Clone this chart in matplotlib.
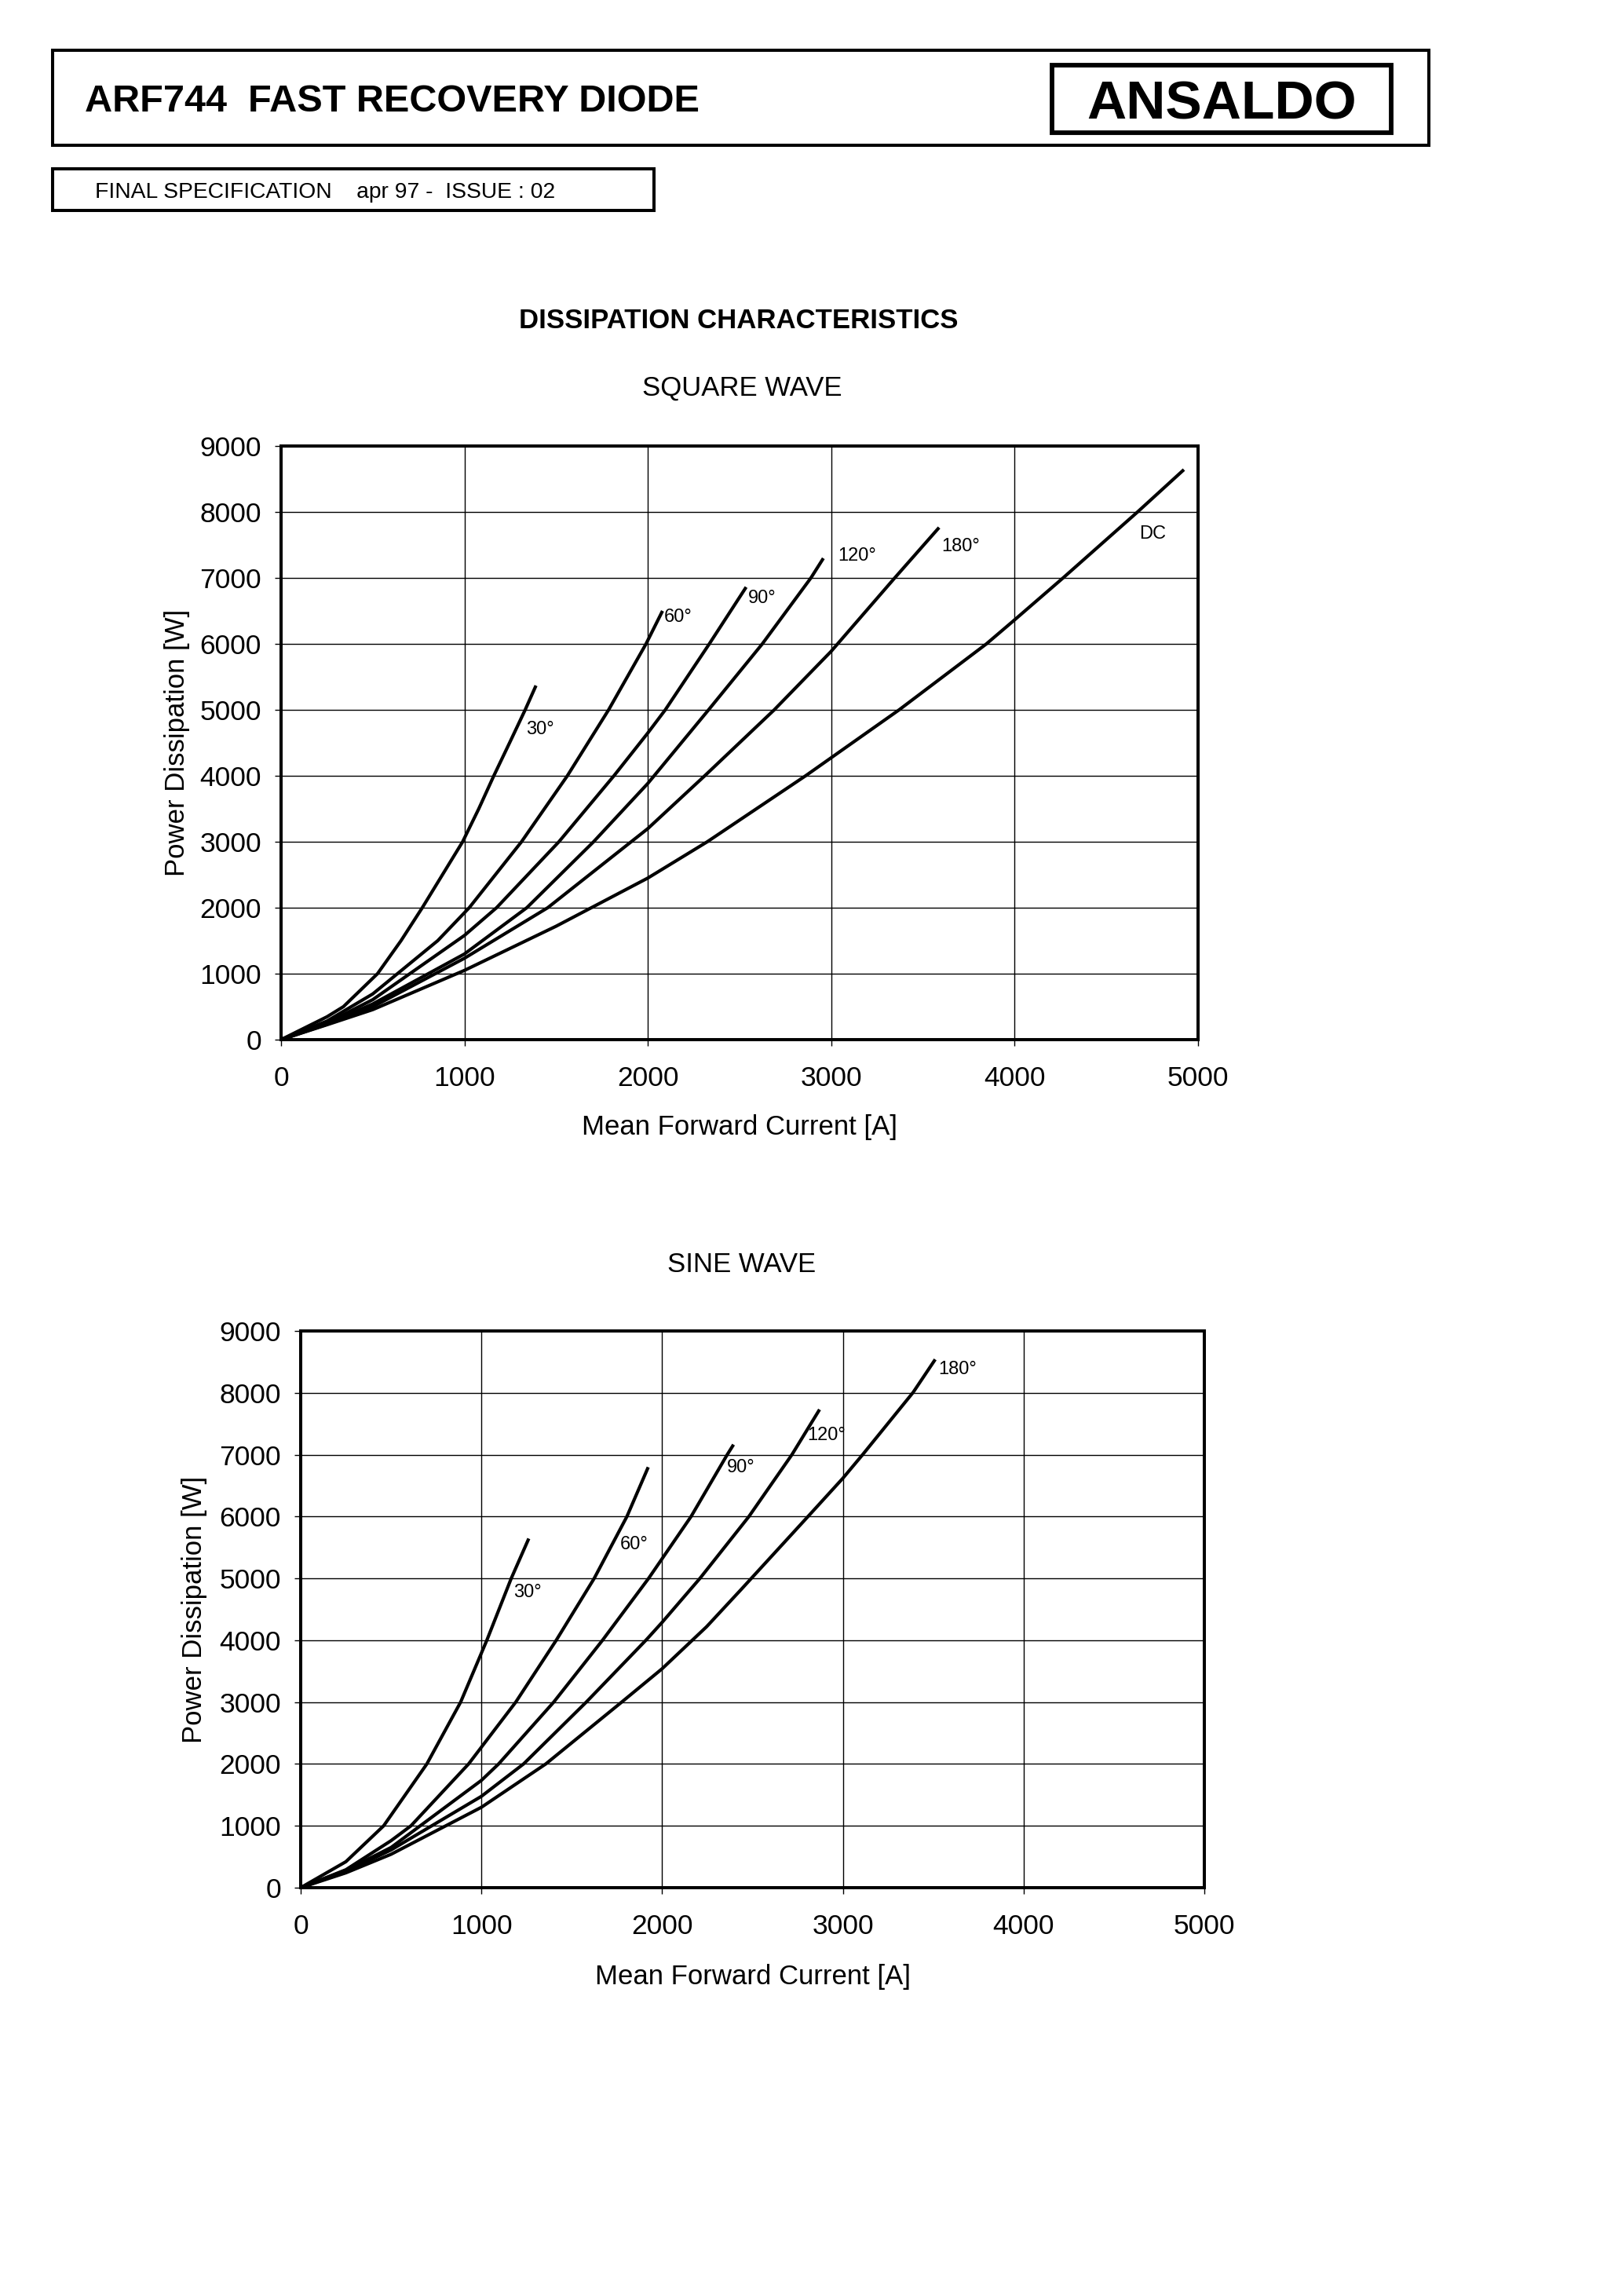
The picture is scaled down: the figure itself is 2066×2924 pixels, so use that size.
import matplotlib
matplotlib.use("Agg")
import matplotlib.pyplot as plt
from matplotlib.patches import Rectangle

plt.rcParams['font.family'] = ['Liberation Sans', 'DejaVu Sans']

W, H = 2066, 2924  # output size in pixels (dpi 100)

# ---- SQUARE WAVE: mean forward current [A] vs power dissipation [W] ----
sq_30_i = [0, 250, 340, 526, 654, 770, 880, 990, 1078, 1160, 1246, 1331, 1390]
sq_30_p = [0, 346, 500, 1000, 1500, 2000, 2500, 3000, 3500, 4000, 4500, 5000, 5368]
sq_60_i = [0, 250, 500, 854, 1026, 1311, 1561, 1786, 1990, 2080]
sq_60_p = [0, 281, 693, 1500, 2000, 3000, 4000, 5000, 6000, 6500]
sq_90_i = [0, 250, 500, 1000, 1175, 1515, 1815, 2000, 2095, 2335, 2536]
sq_90_p = [0, 253, 606, 1580, 2000, 3000, 4000, 4650, 5000, 6000, 6861]
sq_120_i = [0, 250, 500, 1000, 1340, 1704, 2000, 2331, 2624, 2889, 2957]
sq_120_p = [0, 240, 541, 1299, 2000, 3000, 3885, 5000, 6000, 7000, 7298]
sq_180_i = [0, 250, 500, 1000, 1454, 2000, 2310, 2689, 3000, 3346, 3588]
sq_180_p = [0, 232, 498, 1234, 2000, 3200, 4000, 5000, 5889, 7000, 7764]
sq_dc_i = [0, 250, 500, 1000, 1500, 2000, 2324, 2860, 3370, 3846, 4000, 4264, 4670, 4923]
sq_dc_p = [0, 225, 455, 1050, 1720, 2450, 3000, 4000, 5000, 6000, 6365, 7000, 8000, 8642]

# ---- SINE WAVE ----
sn_30_i = [0, 250, 459, 698, 885, 1030, 1165, 1262]
sn_30_p = [0, 420, 1000, 2000, 3000, 4000, 5000, 5644]
sn_60_i = [0, 250, 500, 610, 929, 1190, 1414, 1624, 1805, 1923]
sn_60_p = [0, 290, 760, 1000, 2000, 3000, 4000, 5000, 6000, 6798]
sn_90_i = [0, 250, 500, 1000, 1095, 1400, 1670, 1925, 2160, 2360, 2395]
sn_90_p = [0, 280, 650, 1735, 2000, 3000, 4000, 5000, 6000, 7000, 7163]
sn_120_i = [0, 250, 500, 1000, 1233, 1580, 1910, 2000, 2209, 2480, 2718, 2871]
sn_120_p = [0, 263, 610, 1477, 2000, 3000, 4000, 4290, 5000, 6000, 7000, 7730]
sn_180_i = [0, 250, 500, 1000, 1356, 1776, 2000, 2246, 2440, 2825, 3000, 3110, 3389, 3511]
sn_180_p = [0, 240, 540, 1300, 2000, 3000, 3540, 4219, 4830, 6058, 6619, 7003, 8008, 8540]

square_curves = [
    ('30°', sq_30_i, sq_30_p, (1335, 4700)),
    ('60°', sq_60_i, sq_60_p, (2090, 6400)),
    ('90°', sq_90_i, sq_90_p, (2548, 6694)),
    ('120°', sq_120_i, sq_120_p, (3037, 7328)),
    ('180°', sq_180_i, sq_180_p, (3601, 7477)),
    ('DC', sq_dc_i, sq_dc_p, (4681, 7661)),
]
sine_curves = [
    ('30°', sn_30_i, sn_30_p, (1179, 4767)),
    ('60°', sn_60_i, sn_60_p, (1769, 5547)),
    ('90°', sn_90_i, sn_90_p, (2359, 6788)),
    ('120°', sn_120_i, sn_120_p, (2801, 7308)),
    ('180°', sn_180_i, sn_180_p, (3528, 8372)),
]


def px_rect(x0, y0, x1, y1):
    """pixel box (top-left origin) -> figure fraction [l, b, w, h]"""
    return [x0 / W, 1 - y1 / H, (x1 - x0) / W, (y1 - y0) / H]


def draw_chart(ax, curves, ylabel_x, xlabel_y):
    for name, xs, ys, (lx, ly) in curves:
        ax.plot(xs, ys, color='black', lw=3.0, solid_joinstyle='round',
                solid_capstyle='butt', zorder=3)
        ax.text(lx, ly, name, fontsize=17, ha='left', va='center', zorder=4)
    ax.set_xlim(0, 5000)
    ax.set_ylim(0, 9000)
    ax.set_xticks(range(0, 5001, 1000))
    ax.set_yticks(range(0, 9001, 1000))
    ax.grid(True, color='black', lw=1.0)
    ax.set_axisbelow(True)
    for sp in ax.spines.values():
        sp.set_linewidth(2.9)
    ax.tick_params(axis='both', direction='out', length=6, width=1.0, labelsize=25.5)
    ax.tick_params(axis='x', pad=18)
    ax.tick_params(axis='y', pad=12)
    ax.set_xlabel('Mean Forward Current [A]', fontsize=25, va='center')
    ax.set_ylabel('Power Dissipation [W]', fontsize=25, va='center')
    ax.xaxis.set_label_coords(0.5, xlabel_y)
    ax.yaxis.set_label_coords(ylabel_x, 0.5)


fig = plt.figure(figsize=(W / 100, H / 100), dpi=100)

# header frames
fig.patches.append(Rectangle((67 / W, 1 - 185 / H), (1820 - 67) / W, (185 - 64) / H,
                             transform=fig.transFigure, fill=False, lw=2.9, ec='black'))
fig.patches.append(Rectangle((1340 / W, 1 - 169 / H), (1772 - 1340) / W, (169 - 83) / H,
                             transform=fig.transFigure, fill=False, lw=4.2, ec='black'))
fig.patches.append(Rectangle((67 / W, 1 - 268 / H), (833 - 67) / W, (268 - 215) / H,
                             transform=fig.transFigure, fill=False, lw=2.9, ec='black'))
fig.text(108 / W, 1 - 130 / H, 'ARF744  FAST RECOVERY DIODE', fontsize=35,
         fontweight='bold', ha='left', va='center')
fig.text(1556 / W, 1 - 133 / H, 'ANSALDO', fontsize=50, fontweight='bold',
         ha='center', va='center')
fig.text(121 / W, 1 - 245 / H, 'FINAL SPECIFICATION    apr 97 -  ISSUE : 02',
         fontsize=20.3, ha='left', va='center')

fig.text(941 / W, 1 - 409 / H, 'DISSIPATION CHARACTERISTICS', fontsize=25,
         fontweight='bold', ha='center', va='center')
fig.text(945 / W, 1 - 494 / H, 'SQUARE WAVE', fontsize=25, ha='center', va='center')
fig.text(945 / W, 1 - 1610 / H, 'SINE WAVE', fontsize=25, ha='center', va='center')

ax1 = fig.add_axes(px_rect(358, 568, 1526, 1324))
draw_chart(ax1, square_curves, (226 - 358) / (1526 - 358), -0.148)

ax2 = fig.add_axes(px_rect(383, 1695, 1534, 2404))
draw_chart(ax2, sine_curves, (248 - 383) / (1534 - 383), -0.16)

fig.savefig('out.png', dpi=100, facecolor='white')
